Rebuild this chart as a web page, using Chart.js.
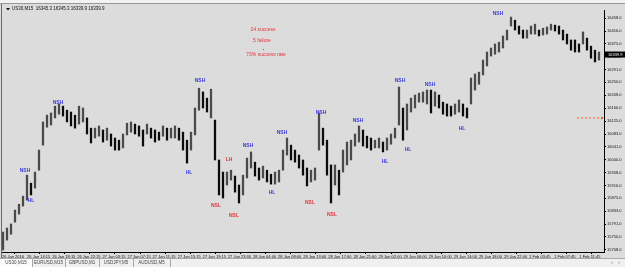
<!DOCTYPE html>
<html>
<head>
<meta charset="utf-8">
<script src="https://cdn.jsdelivr.net/npm/chart.js@4.4.1/dist/chart.umd.min.js"></script>
<style>
html, body { margin: 0; padding: 0; background: #dcdcdc; overflow: hidden; }
#wrap { width: 625px; height: 267px; }
</style>
</head>
<body>
<div id="wrap"><canvas id="c" width="625" height="267"></canvas></div>
<script>
// US30 M15 bars (high / low per bar)
var highs = [15766,15779,15792,15837,15856,15882,15950,15924,15960,16031,
  16122,16144,16151,16173,16180,16173,16160,16154,16144,16173,
  16167,16135,16102,16102,16109,16096,16102,16083,16070,16063,
  16083,16118,16122,16115,16109,16096,16115,16102,16096,16089,
  16109,16102,16102,16109,16102,16089,16063,16089,16167,16231,
  16219,16199,16228,16128,15999,15960,15960,15966,15947,15918,
  15950,16005,16025,15992,15973,15979,15966,15953,15960,15966,
  16031,16070,16047,16031,16015,15999,15973,15966,15973,16151,
  16102,16063,15983,15983,15966,16031,16057,16063,16083,16109,
  16096,16076,16070,16063,16070,16057,16070,16083,16102,16235,
  16167,16180,16199,16209,16215,16219,16225,16225,16219,16209,
  16186,16180,16173,16180,16193,16180,16167,16264,16277,16283,
  16322,16348,16361,16374,16380,16400,16419,16461,16451,16432,
  16419,16419,16432,16438,16419,16425,16429,16438,16435,16432,
  16419,16406,16387,16387,16374,16413,16393,16367,16354,16348];
var lows = [15708,15740,15759,15798,15824,15850,15869,15886,15908,15966,
  16047,16105,16112,16135,16147,16141,16122,16109,16102,16115,
  16122,16083,16054,16070,16076,16057,16063,16044,16031,16031,
  16038,16080,16089,16083,16076,16044,16083,16070,16057,16063,
  16076,16063,16070,16070,16063,16031,15989,16031,16080,16160,
  16167,16154,16135,15999,15886,15876,15918,15934,15895,15860,
  15886,15941,15973,15947,15934,15941,15928,15921,15921,15928,
  15966,16015,15999,15992,15973,15950,15915,15928,15934,16031,
  16047,15950,15860,15918,15886,15960,15983,15999,16044,16057,
  16044,16038,16031,16038,16038,16025,16031,16050,16070,16112,
  16063,16096,16154,16167,16186,16186,16180,16151,16173,16167,
  16147,16141,16141,16147,16154,16141,16135,16180,16225,16244,
  16274,16303,16335,16341,16348,16361,16387,16432,16419,16406,
  16393,16393,16406,16406,16400,16403,16406,16419,16416,16406,
  16387,16374,16354,16348,16348,16374,16354,16328,16316,16322];

var timeLabels = ['26 Jan 2016','26 Jan 14:15','26 Jan 18:15','26 Jan 22:15','27 Jan 03:15','27 Jan 07:15',
  '27 Jan 11:15','27 Jan 15:15','27 Jan 19:15','27 Jan 23:30','28 Jan 04:00','28 Jan 08:00',
  '28 Jan 13:00','28 Jan 17:00','28 Jan 21:00','29 Jan 02:00','29 Jan 06:00','29 Jan 10:00',
  '29 Jan 14:00','29 Jan 18:00','29 Jan 22:00','1 Feb 03:45','1 Feb 07:45','1 Feb 11:45'];

var priceTicks = [16458,16416,16375,16333,16291,16250,16208,16166,16125,16083,
  16041,16000,15958,15916,15875,15833,15791,15750,15708];

var lastPrice = 16339.9;
var levelPrice = 16135;
var levelFrom = 143.5;

// swing markers (text, bar, price)
var markText  = ['NSH','HL','NSH','HL','NSH','NSL','LH','NSL','NSH','HL','NSH','NSL','NSH','NSL','NSH','HL','NSH','HL','NSH','HL','NSH'];
var markBar   = [5.5,7,13.75,46.5,49.25,53.25,56.5,57.75,61.25,67.25,69.75,76.75,79.5,82.25,88.75,95.5,99.25,101.25,106.75,114.75,123.75];
var markPrice = [15966,15866,16186,15957,16254,15853,15999,15818,16047,15895,16089,15860,16151,15821,16125,15993,16254,16031,16244,16099,16471];

var statsText = ['14 success','5 failure','73% success rate'];
var header = 'US30,M15  16345.3 16345.3 16339.9 16339.9';
var tabs = ['US30,M15','EURUSD,M15','GBPUSD,M1','USDJPY,M5','AUDUSD,M5'];

var barData = [];
var barColors = [];
for (var i = 0; i < highs.length; i++) {
    barData.push({x: i, y: [lows[i], highs[i]]});
    var up = i == 0 || (highs[i] + lows[i]) >= (highs[i-1] + lows[i-1]);
    barColors.push(up ? '#4a4a4a' : '#0c0c0c');
}

var fontName = '"Liberation Sans", Arial, sans-serif';

var mtPlugin = {
    id: 'mt',
    beforeDraw: function(chart) {
        var c = chart.ctx;
        c.save();
        c.fillStyle = '#dcdcdc';
        c.fillRect(0, 0, chart.width, chart.height);
        // toolbar strip
        c.fillStyle = '#f2f2f2';
        c.fillRect(0, 0, chart.width, 3);
        c.fillStyle = '#9a9a9a';
        c.fillRect(0, 3, chart.width, 1);
        c.restore();
    },
    afterDatasetsDraw: function(chart) {
        var c = chart.ctx;
        var xs = chart.scales.x, ys = chart.scales.y;
        c.save();
        c.textAlign = 'center';
        c.textBaseline = 'middle';
        c.font = 'bold 5px ' + fontName;
        for (var k = 0; k < markText.length; k++) {
            var red = markText[k] == 'NSL' || markText[k] == 'LH';
            c.fillStyle = red ? '#e2343c' : '#3b3bdc';
            c.fillText(markText[k], xs.getPixelForValue(markBar[k]), ys.getPixelForValue(markPrice[k]));
        }
        // stats
        c.fillStyle = '#e2343c';
        c.font = '5px ' + fontName;
        c.fillText(statsText[0], 263, 30);
        c.fillText(statsText[1], 262, 41);
        c.fillText(statsText[2], 266, 55);
        c.fillRect(263, 49, 1, 1);
        // header
        c.textAlign = 'left';
        c.fillStyle = '#111';
        c.font = '4.5px ' + fontName;
        c.fillText(header, 12, 9);
        c.beginPath();
        c.moveTo(6, 8); c.lineTo(10, 8); c.lineTo(8, 10.5); c.closePath();
        c.fill();
        c.restore();
    },
    afterDraw: function(chart) {
        var c = chart.ctx;
        var ys = chart.scales.y, a = chart.chartArea;
        c.save();
        // left frame
        c.fillStyle = '#6a6a6a';
        c.fillRect(1, 4, 1, 254);
        // level end marker
        var ly = ys.getPixelForValue(levelPrice);
        c.fillStyle = '#ff5a1f';
        c.beginPath();
        c.moveTo(a.right - 3, ly - 1.5); c.lineTo(a.right, ly); c.lineTo(a.right - 3, ly + 1.5); c.closePath();
        c.fill();
        // current price box
        var py = ys.getPixelForValue(lastPrice);
        c.fillStyle = '#000';
        c.fillRect(a.right + 1, py - 3, 20, 6);
        c.fillStyle = '#fff';
        c.font = '4px ' + fontName;
        c.textAlign = 'left';
        c.textBaseline = 'middle';
        c.fillText(lastPrice.toFixed(1), a.right + 4, py);
        // tabs
        var ty = 258;
        c.fillStyle = '#f0f0f0';
        c.fillRect(0, ty, chart.width, chart.height - ty);
        c.fillStyle = '#fbfbfb';
        c.fillRect(0, ty, 32, chart.height - ty);
        var edges = [0, 32, 65, 99, 133, 170];
        c.font = '4.5px ' + fontName;
        c.textAlign = 'center';
        for (var t = 0; t < tabs.length; t++) {
            c.fillStyle = '#444';
            c.fillText(tabs[t], (edges[t] + edges[t+1]) / 2, ty + 4.5);
            c.fillStyle = '#a8a8a8';
            c.fillRect(edges[t+1], ty + 1, 1, 8);
        }
        c.fillStyle = '#a8a8a8';
        c.fillRect(0, ty, chart.width, 1);
        c.fillStyle = '#555';
        c.fillText('\u2039', 612, ty + 4.5);
        c.fillText('\u203a', 619, ty + 4.5);
        c.restore();
    }
};

var ctx = document.getElementById('c');
var myChart = new Chart(ctx, {
    type: 'bar',
    data: {
        datasets: [
            {
                type: 'bar',
                data: barData,
                backgroundColor: barColors,
                borderWidth: 0,
                barThickness: 1.6,
                grouped: false
            },
            {
                type: 'line',
                data: [{x: levelFrom, y: levelPrice}, {x: 150.25, y: levelPrice}],
                borderColor: '#ff5a1f',
                borderWidth: 1,
                borderDash: [2, 2],
                pointRadius: 0
            }
        ]
    },
    options: {
        responsive: false,
        animation: false,
        devicePixelRatio: 1,
        layout: { padding: { top: 10, left: 2, right: 0, bottom: 9 } },
        plugins: { legend: { display: false }, tooltip: { enabled: false } },
        scales: {
            x: {
                type: 'linear',
                min: -0.25,
                max: 150.25,
                offset: false,
                afterBuildTicks: function(scale) {
                    scale.ticks = timeLabels.map(function(t, k) { return {value: k * 6.275 - 0.25}; });
                },
                afterFit: function(scale) { scale.height = 6; },
                grid: { drawOnChartArea: false, drawTicks: true, tickLength: 2, color: '#000' },
                border: { display: true, color: '#000' },
                ticks: {
                    autoSkip: false,
                    maxRotation: 0,
                    align: 'start',
                    padding: 0,
                    color: '#111',
                    font: { size: 4, family: fontName },
                    callback: function(v, idx) { return timeLabels[idx]; }
                }
            },
            y: {
                position: 'right',
                min: 15701.5,
                max: 16483.9,
                afterBuildTicks: function(scale) {
                    scale.ticks = priceTicks.map(function(v) { return {value: v}; });
                },
                afterFit: function(scale) { scale.width = 21; },
                grid: { drawOnChartArea: false, drawTicks: true, tickLength: 2, color: '#000' },
                border: { display: true, color: '#000' },
                ticks: {
                    padding: 1,
                    color: '#111',
                    font: { size: 4, family: fontName },
                    callback: function(v) { return v.toFixed(1); }
                }
            }
        }
    },
    plugins: [mtPlugin]
});
</script>
</body>
</html>
